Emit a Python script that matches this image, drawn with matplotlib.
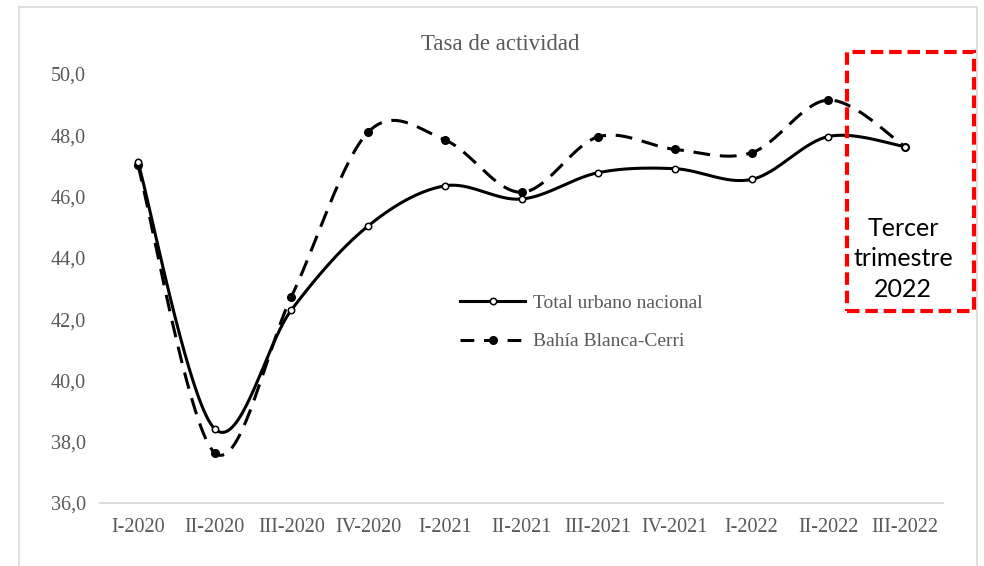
import numpy as np
import matplotlib
matplotlib.use("Agg")
import matplotlib.pyplot as plt
from matplotlib.lines import Line2D
from matplotlib.patches import Rectangle

categories = ["I-2020", "II-2020", "III-2020", "IV-2020", "I-2021", "II-2021",
              "III-2021", "IV-2021", "I-2022", "II-2022", "III-2022"]
total_urbano = [47.13, 38.42, 42.30, 45.04, 46.35, 45.92, 46.78, 46.91, 46.56, 47.96, 47.63]
bahia_blanca = [47.03, 37.64, 42.73, 48.10, 47.85, 46.14, 47.95, 47.54, 47.43, 49.15, 47.63]
y_ticks = [36, 38, 40, 42, 44, 46, 48, 50]
title = "Tasa de actividad"
series_names = ["Total urbano nacional", "Bahía Blanca-Cerri"]
note = "Tercer\ntrimestre\n2022"

W, H = 984, 566
fig = plt.figure(figsize=(W / 100, H / 100), dpi=100)

def fx(px):
    return px / W

def fy(py):
    return 1 - py / H

# axes placement
left, right, top, bottom = 99.6, 943.4, 74, 503
ax = fig.add_axes([fx(left), fy(bottom), fx(right) - fx(left), fy(top) - fy(bottom)])


def smooth(xs, ys, n=40):
    pts = np.column_stack([xs, ys]).astype(float)
    out = []
    for i in range(len(pts) - 1):
        p0 = pts[i - 1] if i > 0 else pts[i]
        p1 = pts[i]
        p2 = pts[i + 1]
        p3 = pts[i + 2] if i + 2 < len(pts) else pts[i + 1]
        c1 = p1 + (p2 - p0) / 6
        c2 = p2 - (p3 - p1) / 6
        t = np.linspace(0, 1, n)[:, None]
        seg = (1 - t) ** 3 * p1 + 3 * (1 - t) ** 2 * t * c1 + 3 * (1 - t) * t ** 2 * c2 + t ** 3 * p2
        out.append(seg if i == 0 else seg[1:])
    return np.vstack(out)

x = np.arange(len(categories))
lw = 2.2
dash = (5.5, 3.2)

s1 = smooth(x, total_urbano)
s2 = smooth(x, bahia_blanca)
ax.plot(s2[:, 0], s2[:, 1], color="black", lw=lw, linestyle=(0, dash), solid_capstyle="butt",
        dash_capstyle="butt", zorder=3)
ax.plot(s1[:, 0], s1[:, 1], color="black", lw=lw, zorder=4)
ax.plot(x, bahia_blanca, linestyle="none", marker="o", ms=5.5, mfc="black", mec="black", zorder=5)
ax.plot(x, total_urbano, linestyle="none", marker="o", ms=4.6, mfc="white", mec="black", mew=1.1, zorder=6)

ax.set_xlim(-0.5, len(categories) - 0.5)
ax.set_ylim(36, 50)
ax.set_yticks(y_ticks)
ax.set_yticklabels([f"{v:.1f}".replace(".", ",") for v in y_ticks])
ax.set_xticks(x)
ax.set_xticklabels(categories)

gray = "#595959"
ax.tick_params(axis="both", length=0, labelsize=14.5, labelcolor=gray)
ax.tick_params(axis="y", pad=10)
ax.tick_params(axis="x", pad=11)
for lab in ax.get_xticklabels() + ax.get_yticklabels():
    lab.set_fontfamily("Liberation Serif")
for side in ["left", "right", "top"]:
    ax.spines[side].set_visible(False)
ax.spines["bottom"].set_color("#d9d9d9")
ax.spines["bottom"].set_linewidth(1.3)
ax.patch.set_alpha(0)

# title
fig.text(fx(500), fy(49.5), title, ha="center", va="baseline", fontsize=16.5,
         color=gray, family="Liberation Serif")

# legend
handles = [
    Line2D([], [], color="black", lw=lw, marker="o", ms=4.6, mfc="white", mec="black", mew=1.1),
    Line2D([], [], color="black", lw=lw, linestyle=(0, (4.5, 3.2)), marker="o", ms=5.5,
           mfc="black", mec="black"),
]
leg = fig.legend(handles, series_names, loc="center left",
                 bbox_to_anchor=(fx(460), fy(322.5)), frameon=False,
                 prop={"family": "Liberation Serif", "size": 14}, labelcolor=gray,
                 handlelength=3.35, handletextpad=0.4, borderpad=0, borderaxespad=0,
                 labelspacing=1.05, numpoints=1)

# outer chart border
fig.patches.append(Rectangle((fx(19), fy(620)), fx(977) - fx(19), fy(7) - fy(620),
                             transform=fig.transFigure, fill=False, ec="#d9d9d9", lw=1.2,
                             clip_on=False))

# red dashed box
fig.patches.append(Rectangle((fx(846.5), fy(311)), fx(974) - fx(846.5), fy(52) - fy(311),
                             transform=fig.transFigure, fill=False, ec="#ff0000", lw=3.0,
                             linestyle=(0, (3.0, 1.4)), zorder=10))

fig.text(fx(903), fy(259), note, ha="center", va="center", fontsize=18,
         color="black", family="Lato", linespacing=1.42)

fig.savefig("out.png", dpi=100)
